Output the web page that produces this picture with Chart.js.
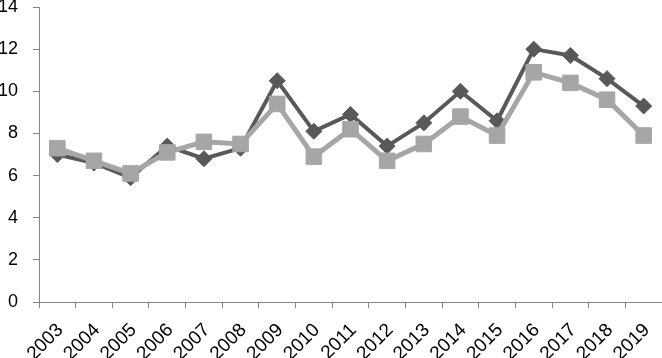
<!DOCTYPE html>
<html>
<head>
<meta charset="utf-8">
<script src="https://cdn.jsdelivr.net/npm/chart.js@4/dist/chart.umd.min.js"></script>
<style>
html,body{margin:0;padding:0;background:#fff;}
#wrap{width:662px;height:358px;}
</style>
</head>
<body>
<div id="wrap"><canvas id="c" width="662" height="358"></canvas></div>
<script>
const years = ['2003','2004','2005','2006','2007','2008','2009','2010','2011','2012','2013','2014','2015','2016','2017','2018','2019'];
const darkSeries = [7.0, 6.6, 5.9, 7.4, 6.8, 7.3, 10.5, 8.1, 8.9, 7.4, 8.5, 10.0, 8.6, 12.0, 11.7, 10.6, 9.3];
const lightSeries = [7.3, 6.7, 6.1, 7.1, 7.6, 7.5, 9.4, 6.9, 8.2, 6.7, 7.5, 8.8, 7.9, 10.9, 10.4, 9.6, 7.9];
const yTicks = [0, 2, 4, 6, 8, 10, 12, 14];

const DARK = '#595959';
const LIGHT = '#a6a6a6';
const AXIS = '#868686';
const FONT = "'Liberation Sans', Arial, sans-serif";

new Chart(document.getElementById('c'), {
  type: 'line',
  data: {
    labels: years,
    datasets: [
      {
        label: 'A', data: darkSeries, order: 1,
        borderColor: DARK, backgroundColor: DARK, borderWidth: 4,
        pointStyle: 'rectRot', pointRadius: 8, pointBackgroundColor: DARK, pointBorderColor: DARK, pointBorderWidth: 1,
        tension: 0, fill: false
      },
      {
        label: 'B', data: lightSeries, order: 0,
        borderColor: LIGHT, backgroundColor: LIGHT, borderWidth: 5,
        pointStyle: 'rect', pointRadius: 11, pointBackgroundColor: LIGHT, pointBorderColor: LIGHT, pointBorderWidth: 1,
        tension: 0, fill: false
      }
    ]
  },
  options: {
    responsive: false,
    animation: false,
    devicePixelRatio: 1,
    layout: { autoPadding: false, padding: { top: 0, right: 0, bottom: 0, left: 0 } },
    plugins: { legend: { display: false }, tooltip: { enabled: false } },
    scales: {
      x: {
        type: 'category',
        offset: true,
        grid: { display: true, offset: true, drawOnChartArea: false, drawTicks: true, tickLength: 6, color: AXIS, lineWidth: 1 },
        border: { display: true, color: AXIS, width: 1 },
        ticks: { color: '#000', font: { family: FONT, size: 19 }, minRotation: 45, maxRotation: 45, autoSkip: false, padding: 11, labelOffset: 3 },
        afterFit: (s) => { s.height = 56; s.paddingLeft = 0; s.paddingRight = 0; }
      },
      y: {
        min: 0, max: 14,
        afterBuildTicks: (s) => { s.ticks = yTicks.map(v => ({ value: v })); },
        grid: { display: true, drawOnChartArea: false, drawTicks: true, tickLength: 6, color: AXIS, lineWidth: 1 },
        border: { display: true, color: AXIS, width: 1 },
        ticks: { color: '#000', font: { family: FONT, size: 18 }, padding: 15 },
        afterFit: (s) => { s.width = 39; s.paddingTop = 7; s.paddingBottom = 0; }
      }
    }
  }
});
</script>
</body>
</html>
